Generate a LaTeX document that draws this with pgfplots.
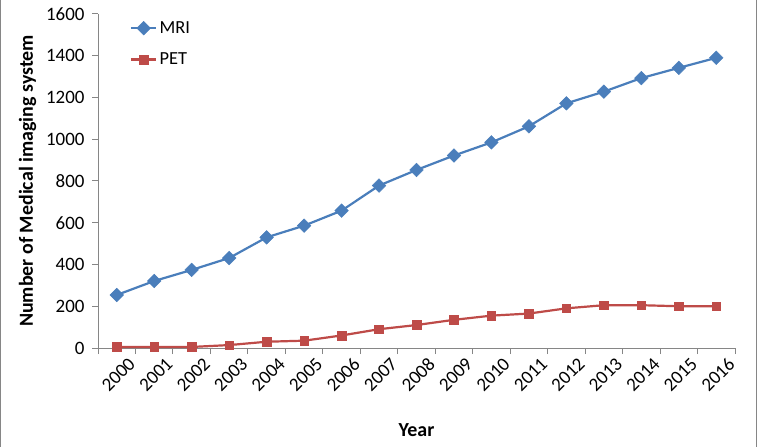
\documentclass[border=0pt]{standalone}
\usepackage{pgfplots}
\pgfplotsset{compat=1.18}
\usepackage{fontspec}
\setmainfont{Carlito}
\definecolor{mriblue}{HTML}{4A7EBB}
\definecolor{petred}{HTML}{BE4B48}
\definecolor{axgray}{HTML}{868686}
\begin{document}
\begin{tikzpicture}
\path[use as bounding box] (0bp,0bp) rectangle (757bp,447bp);
\draw[axgray, line width=1bp] (0.5bp,0bp) -- (0.5bp,447bp);
\draw[axgray, line width=1bp] (756.5bp,0bp) -- (756.5bp,447bp);
\begin{axis}[
  at={(98bp,99bp)}, anchor=south west,
  scale only axis, width=637bp, height=334bp,
  xmin=-0.5, xmax=16.5, ymin=0, ymax=1600,
  axis x line*=bottom, axis y line*=left,
  axis line style={axgray, line width=1bp},
  tick style={axgray, line width=1bp},
  tick align=outside, major tick length=6bp,
  xtick={-0.5,0.5,...,16.5}, xticklabels={},
  extra x ticks={0,1,...,16},
  extra x tick labels={2000,2001,2002,2003,2004,2005,2006,2007,2008,2009,2010,2011,2012,2013,2014,2015,2016},
  extra x tick style={major tick length=0pt},
  xticklabel style={rotate=45, anchor=east, xshift=5bp, yshift=-20bp},
  ytick={0,200,...,1600},
  /pgf/number format/set thousands separator={},
  /pgf/number format/assume math mode=true,
  ticklabel style={font=\fontsize{19}{22}\selectfont, black},
  yticklabel style={xshift=-4bp},
  xlabel={\textbf{Year}}, ylabel={\textbf{Number of Medical imaging system}},
  label style={font=\fontsize{20}{24}\selectfont},
  xlabel style={yshift=-17bp},
  ylabel style={yshift=3bp},
  legend style={at={(0.045,0.99)}, anchor=north west, draw=none, fill=none,
    font=\fontsize{18.5}{22}\selectfont, row sep=14bp},
  legend image code/.code={\draw[mark repeat=2,mark phase=2] plot coordinates {(0cm,0cm) (0.45cm,0cm) (0.9cm,0cm)};},
  legend cell align=left,
  clip=false,
]
\addplot[mriblue, line width=2.2bp, mark=square*, mark size=4.8bp, mark options={fill=mriblue, line width=0.5bp, rotate=45}] coordinates {
(0,254) (1,321) (2,374) (3,431) (4,530) (5,586) (6,658) (7,778) (8,853) (9,922) (10,985) (11,1062) (12,1172) (13,1228) (14,1293) (15,1342) (16,1390)};
\addlegendentry{MRI}
\addplot[petred, line width=2.2bp, mark=square*, mark size=4.3bp, mark options={fill=petred, line width=0.5bp}] coordinates {
(0,5) (1,5) (2,5) (3,14) (4,30) (5,35) (6,60) (7,90) (8,110) (9,135) (10,155) (11,165) (12,190) (13,205) (14,205) (15,200) (16,200)};
\addlegendentry{PET}
\end{axis}
\end{tikzpicture}
\end{document}
